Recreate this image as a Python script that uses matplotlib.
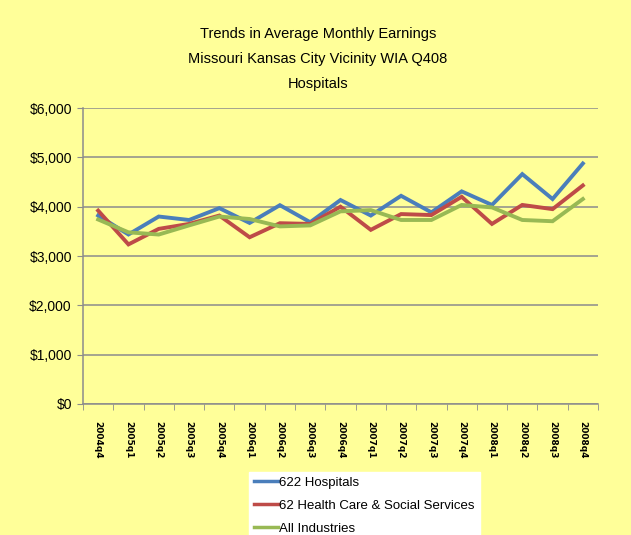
import matplotlib.pyplot as plt
from matplotlib.ticker import FuncFormatter, MultipleLocator

# Quarters and average monthly earnings per series
quarters = ['2004q4', '2005q1', '2005q2', '2005q3', '2005q4', '2006q1', '2006q2',
            '2006q3', '2006q4', '2007q1', '2007q2', '2007q3', '2007q4', '2008q1',
            '2008q2', '2008q3', '2008q4']
hospitals = [3820, 3436, 3800, 3730, 3970, 3670, 4030, 3685, 4135, 3820, 4220,
             3885, 4310, 4035, 4660, 4155, 4875]
health_care = [3920, 3235, 3550, 3650, 3820, 3380, 3665, 3650, 4000, 3530, 3850,
               3830, 4200, 3650, 4035, 3950, 4430]
all_industries = [3740, 3480, 3435, 3620, 3800, 3750, 3600, 3620, 3905, 3930, 3730,
                  3730, 4035, 3985, 3730, 3705, 4155]

series_names = ['622 Hospitals', '62 Health Care & Social Services', 'All Industries']
colors = ['#4A7EBB', '#BE4B48', '#98B954']
bg = '#FFFF99'

fig = plt.figure(figsize=(6.31, 5.35), dpi=100, facecolor=bg)
ax = fig.add_axes([83 / 631, 1 - 404 / 535, (598 - 83) / 631, (404 - 108) / 535])
ax.set_facecolor(bg)

x = range(len(quarters))
for vals, name, c in zip([hospitals, health_care, all_industries], series_names, colors):
    ax.plot(x, vals, color=c, lw=2.8, label=name, solid_joinstyle='miter')

ax.set_xlim(-0.5, len(quarters) - 0.5)
ax.set_ylim(0, 6000)
ax.yaxis.set_major_locator(MultipleLocator(1000))
ax.yaxis.set_major_formatter(FuncFormatter(lambda v, p: f'${v:,.0f}'))
ax.grid(axis='y', color='#8C8C8C', lw=1.1)
ax.set_axisbelow(True)

ax.set_xticks(list(x))
ax.set_xticklabels(quarters, rotation=-90, fontsize=6.5, fontweight='bold',
                   family='DejaVu Sans')
ax.tick_params(axis='x', length=0, pad=12)
ax.set_xticks([i - 0.5 for i in range(len(quarters) + 1)], minor=True)
ax.tick_params(axis='x', which='minor', length=4, color='#8C8C8C', direction='out')
ax.tick_params(axis='y', length=4, color='#8C8C8C', labelsize=10, pad=4)
for lab in ax.get_yticklabels():
    lab.set_family('Liberation Sans')

for side in ['top', 'right']:
    ax.spines[side].set_visible(False)
for side in ['left', 'bottom']:
    ax.spines[side].set_color('#8C8C8C')
    ax.spines[side].set_linewidth(1.1)

fig.text(318 / 631, 1 - 59 / 535,
         'Trends in Average Monthly Earnings\nMissouri Kansas City Vicinity WIA Q408\nHospitals',
         ha='center', va='center', fontsize=10.5, linespacing=2.0,
         family='Liberation Sans')

leg = fig.legend(loc='upper left', bbox_to_anchor=(242 / 631, 1 - 465 / 535),
                 frameon=True, fancybox=False, handlelength=1.8, handletextpad=0.1,
                 labelspacing=0.8, borderpad=0.4,
                 prop={'family': 'Liberation Sans', 'size': 9.5})
leg.get_frame().set_facecolor('white')
leg.get_frame().set_edgecolor('white')
leg.get_frame().set_alpha(1)
for line in leg.get_lines():
    line.set_linewidth(2.5)

fig.savefig('out.png', dpi=100, facecolor=bg)
